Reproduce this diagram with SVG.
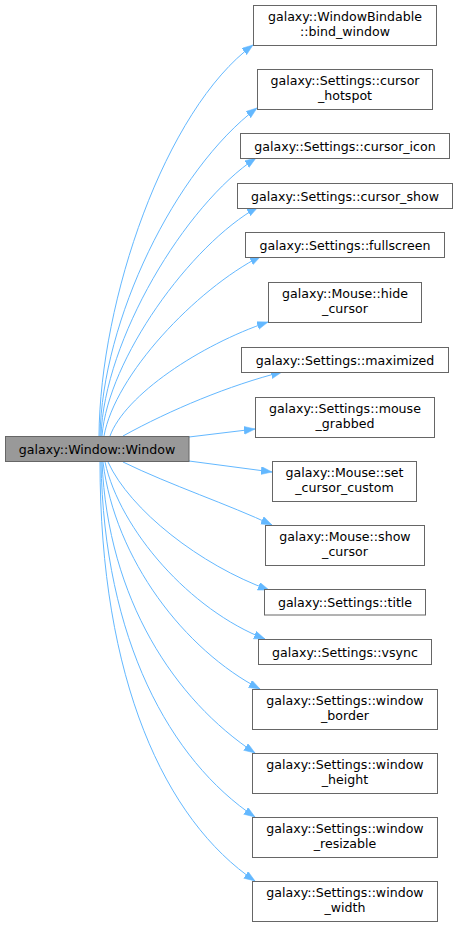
<svg xmlns="http://www.w3.org/2000/svg" width="457" height="927" viewBox="0 0 457 927">
<style>
.n rect{fill:#ffffff;stroke:#666666;stroke-width:1}
.m rect{fill:#999999;stroke:#666666;stroke-width:1}
text{font-family:"DejaVu Sans","Liberation Sans",sans-serif;font-size:12.6px;fill:#000000;text-anchor:middle}
.e path{fill:none;stroke:#63b8ff;stroke-width:1;marker-end:url(#ah)}
</style>
<defs>
<marker id="ah" markerUnits="userSpaceOnUse" markerWidth="12" markerHeight="9" refX="11" refY="4" orient="auto">
<path d="M0,0 L11,4 L0,8 z" fill="#63b8ff" stroke="#63b8ff" stroke-width="0.5"/>
</marker>
</defs>
<rect x="0" y="0" width="457" height="927" fill="#ffffff"/>
<g id="edges" class="e">
<path d="M99,436 C100,300 165,110 253,45"/>
<path d="M100,436 C102,320 175,170 257,108"/>
<path d="M101,436 C104,340 185,205 256,158"/>
<path d="M102,436 C108,360 190,245 258,207"/>
<path d="M104,436 C115,375 195,290 261,256"/>
<path d="M110,436 C125,395 200,345 268,322"/>
<path d="M123,436 C170,410 230,385 282,372"/>
<path d="M189,437 L255,429"/>
<path d="M189,461 L272,472"/>
<path d="M123,462 C170,485 230,505 272,525"/>
<path d="M108,462 C130,510 200,565 269,590"/>
<path d="M105,462 C120,530 190,610 265,639"/>
<path d="M103,462 C115,560 185,650 260,689"/>
<path d="M102,462 C108,600 175,700 255,753"/>
<path d="M101,462 C104,640 170,760 255,817"/>
<path d="M100,462 C100,680 165,820 255,881"/>
</g>
<g id="node_main" class="m"><rect x="5.5" y="436.5" width="183.5" height="25"/><text x="97" y="454">galaxy::Window::Window</text></g>
<g id="node_bind_window" class="n"><rect x="253.5" y="5.5" width="183" height="40"/><text x="345" y="20.9">galaxy::WindowBindable</text><text x="345" y="35.7">::bind_window</text></g>
<g id="node_cursor_hotspot" class="n"><rect x="257.5" y="69.5" width="175" height="40"/><text x="345" y="84.9">galaxy::Settings::cursor</text><text x="345" y="99.7">_hotspot</text></g>
<g id="node_cursor_icon" class="n"><rect x="240.5" y="133.5" width="209" height="25"/><text x="345" y="150.5">galaxy::Settings::cursor_icon</text></g>
<g id="node_cursor_show" class="n"><rect x="237.5" y="183.5" width="215" height="25"/><text x="345" y="200.5">galaxy::Settings::cursor_show</text></g>
<g id="node_fullscreen" class="n"><rect x="245.5" y="232.5" width="199" height="25"/><text x="345" y="249.5">galaxy::Settings::fullscreen</text></g>
<g id="node_hide_cursor" class="n"><rect x="268.5" y="282.5" width="153" height="40"/><text x="345" y="297.9">galaxy::Mouse::hide</text><text x="345" y="312.7">_cursor</text></g>
<g id="node_maximized" class="n"><rect x="241.5" y="347.5" width="207" height="25"/><text x="345" y="364.5">galaxy::Settings::maximized</text></g>
<g id="node_mouse_grabbed" class="n"><rect x="255.5" y="397.5" width="179" height="40"/><text x="345" y="412.9">galaxy::Settings::mouse</text><text x="345" y="427.7">_grabbed</text></g>
<g id="node_set_cursor_custom" class="n"><rect x="272.5" y="461.5" width="144" height="40"/><text x="344.5" y="476.9">galaxy::Mouse::set</text><text x="344.5" y="491.7">_cursor_custom</text></g>
<g id="node_show_cursor" class="n"><rect x="265.5" y="525.5" width="159" height="40"/><text x="345" y="540.9">galaxy::Mouse::show</text><text x="345" y="555.7">_cursor</text></g>
<g id="node_title" class="n"><rect x="264.5" y="589.5" width="161" height="25.5"/><text x="345" y="607">galaxy::Settings::title</text></g>
<g id="node_vsync" class="n"><rect x="258.5" y="639.5" width="173" height="25"/><text x="345" y="656.5">galaxy::Settings::vsync</text></g>
<g id="node_window_border" class="n"><rect x="252.5" y="689.5" width="185" height="40"/><text x="345" y="704.9">galaxy::Settings::window</text><text x="345" y="719.7">_border</text></g>
<g id="node_window_height" class="n"><rect x="252.5" y="753.5" width="185" height="40"/><text x="345" y="768.9">galaxy::Settings::window</text><text x="345" y="783.7">_height</text></g>
<g id="node_window_resizable" class="n"><rect x="252.5" y="817.5" width="185" height="40"/><text x="345" y="832.9">galaxy::Settings::window</text><text x="345" y="847.7">_resizable</text></g>
<g id="node_window_width" class="n"><rect x="252.5" y="881.5" width="185" height="40"/><text x="345" y="896.9">galaxy::Settings::window</text><text x="345" y="911.7">_width</text></g>
</svg>
